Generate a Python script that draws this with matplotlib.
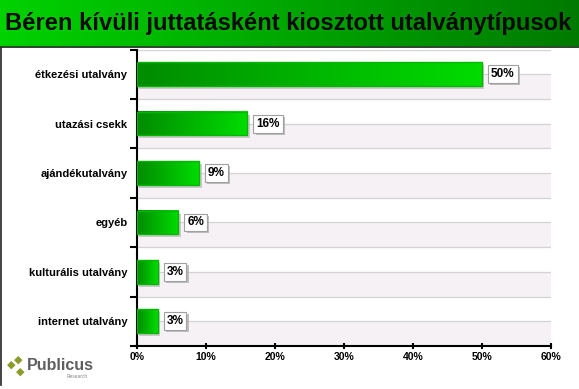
import numpy as np
import matplotlib.pyplot as plt
import matplotlib.patheffects as pe
from matplotlib.patches import Rectangle
from matplotlib.colors import LinearSegmentedColormap

plt.rcParams['font.family'] = ['Liberation Sans', 'DejaVu Sans']

# Data
categories = ['étkezési utalvány', 'utazási csekk', 'ajándékutalvány',
              'egyéb', 'kulturális utalvány', 'internet utalvány']
values = [50, 16, 9, 6, 3, 3]
value_labels = ['50%', '16%', '9%', '6%', '3%', '3%']
x_ticks = [0, 10, 20, 30, 40, 50, 60]
title = 'Béren kívüli juttatásként kiosztott utalványtípusok'

fig = plt.figure(figsize=(5.79, 3.89), dpi=100)
fig.patch.set_facecolor('white')

# title band with green gradient
band = fig.add_axes([0, 1 - 48 / 389, 1, 48 / 389])
grad = np.linspace(0, 1, 256).reshape(1, -1)
band_cmap = LinearSegmentedColormap.from_list('band', ['#00d200', '#007a00'])
band.imshow(grad, aspect='auto', cmap=band_cmap, extent=(0, 1, 0, 1))
band.axhline(0.02, color='#2b4d2b', lw=1.5)
band.set_xlim(0, 1)
band.set_ylim(0, 1)
band.axis('off')
band.text(0.009, 0.52, title, fontsize=17.1, fontweight='bold', color='#0a0a0a',
          ha='left', va='center')

# left frame line
fig.add_artist(plt.Line2D([0.002, 0.002], [4 / 389, 1 - 48 / 389], color='#222222', lw=1.2))

ax = fig.add_axes([137 / 579, 1 - 346 / 389, 414 / 579, (346 - 49.5) / 389])
n = len(categories)
ax.set_xlim(0, 60)
ax.set_ylim(n, 0)

# alternating background and gridlines
for i in range(n):
    ax.axhspan(i + 0.5, i + 1, color='#f5f1f5', zorder=0, lw=0)
for y in np.arange(0, n + 0.01, 0.5):
    ax.axhline(y, color='#d4d2d4', lw=0.9, zorder=0.5)

bar_cmap = LinearSegmentedColormap.from_list('bar', ['#008c00', '#00dc00'])
h = 0.48
for i, (v, lab) in enumerate(zip(values, value_labels)):
    yc = i + 0.5
    # shadow
    ax.add_patch(Rectangle((0.35, yc - h / 2 + 0.06), v, h, color='#b8b8b8',
                           alpha=0.7, zorder=1, lw=0))
    ax.imshow(grad, aspect='auto', cmap=bar_cmap,
              extent=(0, v, yc + h / 2, yc - h / 2), zorder=2)
    ax.add_patch(Rectangle((0, yc - h / 2), v, h, fill=False,
                           edgecolor='#00b800', lw=1.0, zorder=3))
    # value label box with shadow
    t = ax.text(v + 1.3, yc, lab, fontsize=8.5, fontweight='bold', color='black',
                ha='left', va='center', zorder=5,
                bbox=dict(boxstyle='square,pad=0.25', fc='white', ec='#a0a0a0', lw=0.8))
    t.get_bbox_patch().set_path_effects([
        pe.SimplePatchShadow(offset=(1.5, -1.5), shadow_rgbFace='#b0b0b0', alpha=0.8),
        pe.Normal()])

ax.set_yticks(np.arange(n + 1))
ax.set_yticklabels([])
ax.set_yticks(np.arange(n) + 0.5, minor=True)
ax.set_yticklabels(categories, minor=True, fontsize=8, fontweight='bold')
ax.tick_params(axis='y', which='minor', length=0, pad=7)
ax.tick_params(axis='y', which='major', length=5, width=1.5, direction='out')

ax.set_xticks(x_ticks)
ax.set_xticklabels([f'{t}%' for t in x_ticks], fontsize=7.5, fontweight='bold')
ax.tick_params(axis='x', length=5, width=1.5, direction='inout', pad=2)

for side in ['top', 'right']:
    ax.spines[side].set_visible(False)
ax.spines['left'].set_linewidth(1.5)
ax.spines['bottom'].set_linewidth(1.5)

# logo
for (dx, dy) in [(11, 365), (18, 360), (20, 372)]:
    fig.text(dx / 579, 1 - dy / 389, '◆', fontsize=8, color='#8c9b2a',
             ha='center', va='center', family='DejaVu Sans')
fig.text(27 / 579, 1 - 365 / 389, 'Publicus', fontsize=11.5, fontweight='bold',
         color='#5f5f5f', ha='left', va='center')
fig.text(88 / 579, 1 - 376 / 389, 'Research', fontsize=3.5, color='#888888',
         ha='right', va='center')

plt.savefig('out.png', dpi=100)
